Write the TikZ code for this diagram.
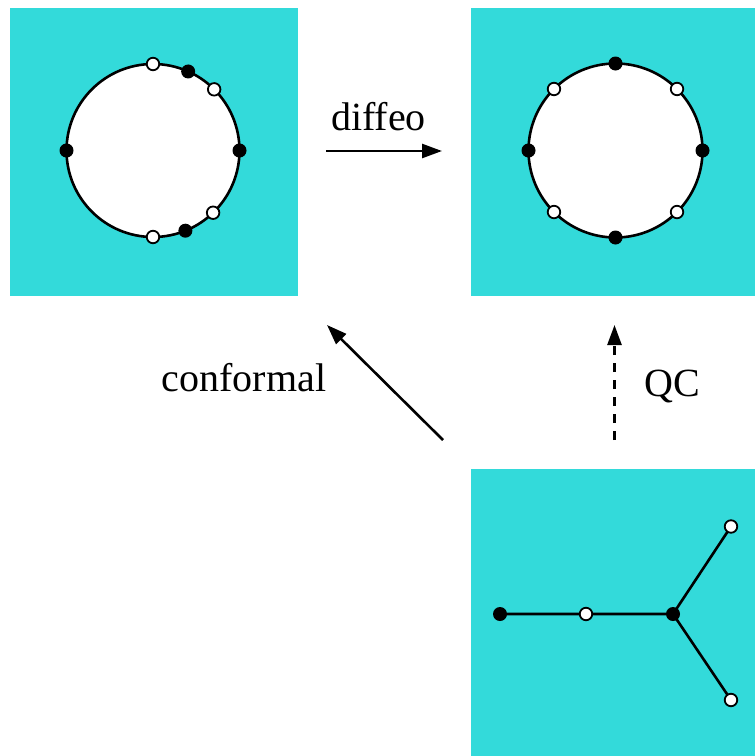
\documentclass[tikz,border=0pt]{standalone}
\usepackage{fontspec}
\setmainfont{Liberation Serif}
\usetikzlibrary{arrows.meta,calc}
\definecolor{cyanbg}{RGB}{51,218,218}
\tikzset{
  panel/.style={fill=cyanbg, draw=none},
  bdot/.style={circle, fill=black, draw=none, inner sep=0pt, minimum size=14pt},
  wdot/.style={circle, fill=white, draw=black, line width=1.8pt, inner sep=0pt, minimum size=12.5pt},
  curve/.style={line width=2.6pt},
  arr/.style={line width=2.6pt, -{Triangle[length=20pt,width=14pt]}},
  lbl/.style={font=\fontsize{40}{44}\selectfont, inner sep=0pt, anchor=base}
}
\begin{document}
\begin{tikzpicture}[x=1pt,y=-1pt]
\useasboundingbox (0,0) rectangle (755,756);
% panels
\fill[panel] (9.5,7.5) rectangle (297.5,295.5);
\fill[panel] (471,7.5) rectangle (755,295.5);
\fill[panel] (471,469) rectangle (755,756);
% left circle (angles negative = upward since y points down)
\coordinate (c1) at (153,150.5);
\draw[curve, fill=white] (c1) circle (86.5);
\node[bdot] (l1) at ($(c1)+(180:86.5)$) {};
\node[bdot] (l2) at ($(c1)+(0:86.5)$) {};
\node[bdot] (l3) at ($(c1)+(-66:86.5)$) {};
\node[bdot] (l4) at ($(c1)+(68:86.5)$) {};
\node[wdot] (l5) at ($(c1)+(-90:86.5)$) {};
\node[wdot] (l6) at ($(c1)+(-45:86.5)$) {};
\node[wdot] (l7) at ($(c1)+(46:86.5)$) {};
\node[wdot] (l8) at ($(c1)+(90:86.5)$) {};
% right circle
\coordinate (c2) at (615.5,150.5);
\draw[curve, fill=white] (c2) circle (87);
\foreach \a/\n in {0/1,90/2,180/3,270/4}
  \node[bdot] (r\n) at ($(c2)+(\a:87)$) {};
\foreach \a/\n in {45/5,135/6,225/7,315/8}
  \node[wdot] (r\n) at ($(c2)+(\a:87)$) {};
% tree
\coordinate (t1) at (500,614);
\coordinate (t2) at (586,614);
\coordinate (t3) at (673,614);
\coordinate (t4) at (731,526.5);
\coordinate (t5) at (731,700);
\draw[curve] (t1) -- (t3) (t4) -- (t3) -- (t5);
\node[bdot] (n1) at (t1) {};
\node[wdot] (n2) at (t2) {};
\node[bdot] (n3) at (t3) {};
\node[wdot] (n4) at (t4) {};
\node[wdot] (n5) at (t5) {};
% arrows
\coordinate (a1s) at (326,151);
\coordinate (a1e) at (442,151);
\draw[arr] (a1s) -- (a1e);
\node[lbl] (diffeo) at (378.5,130) {diffeo};
\coordinate (a2s) at (443,440);
\coordinate (a2e) at (327,325);
\draw[arr] (a2s) -- (a2e);
\node[lbl] (conf) at (244,391.5) {conformal};
\coordinate (a3s) at (614.5,440);
\coordinate (a3e) at (614.5,325);
\draw[arr, dash pattern=on 9pt off 8pt] (a3s) -- (a3e);
\node[lbl] (qc) at (672,396) {QC};
\end{tikzpicture}
\end{document}
